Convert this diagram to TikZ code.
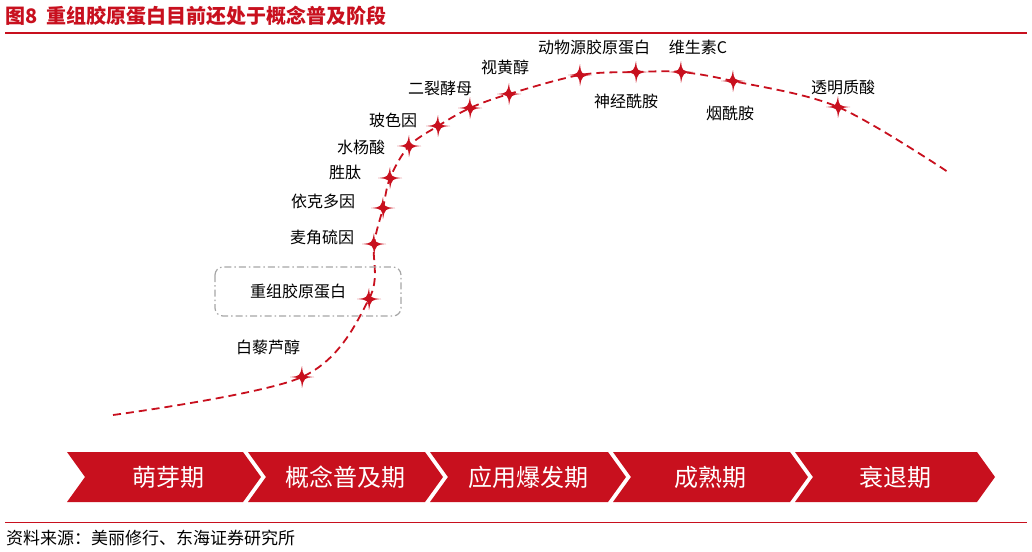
\documentclass[tikz,border=0pt]{standalone}
\usepackage{fontspec}
\newfontfamily\cjk{Noto Sans CJK SC}
\begin{document}
\begin{tikzpicture}[x=1pt,y=-1pt,font=\cjk,
 lbl/.style={font=\cjk\fontsize{16}{18}\selectfont,inner sep=0pt},
 chevtxt/.style={font=\cjk\fontsize{24}{28}\selectfont,text=white}]
\useasboundingbox (0,0) rectangle (1032,551);
\definecolor{dr}{HTML}{C8101E}
\node[anchor=west,inner sep=0pt,text=dr,font=\cjk\bfseries\fontsize{20}{22}\selectfont] (title) at (5,16) {图8\ \ 重组胶原蛋白目前还处于概念普及阶段};
\draw[dr,line width=1.2pt] (5,33) -- (1027,33);
\draw[dr,line width=1pt] (5,522) -- (1027,522);
\node[anchor=west,inner sep=0pt,font=\cjk\fontsize{17}{19}\selectfont] (src) at (6,538) {资料来源：美丽修行、东海证券研究所};
\def\chv#1#2#3#4{\fill[dr] (#1,452) -- (#2,452) -- (#2+18,477) -- (#2,502) -- (#1,502) -- (#1+18,477) -- cycle;
 \node[chevtxt] (#4) at ({(#1+#2)/2+9},477) {#3};}
\fill[dr] (67,452) -- (243,452) -- (261,477) -- (243,502) -- (67,502) -- (85,477) -- cycle;
\node[chevtxt] (c1) at (168,477) {萌芽期};
\chv{248}{425}{概念普及期}{c2}
\chv{430}{608}{应用爆发期}{c3}
\chv{613}{790}{成熟期}{c4}
\chv{795}{977}{衰退期}{c5}
\foreach \n/\x/\y in {s1/302/377,s2/369/299,s3/374/244,s4/383/208,s5/390/178,s6/409/146,s7/438/126,s8/470/108,s9/509/94,s10/580/75,s11/636/72,s12/681/72,s13/733/81,s14/838/107}
 \coordinate (\n) at (\x,\y);
\coordinate (st) at (113,415);
\coordinate (en) at (948,172);
\draw[dr,line width=1.8pt,dash pattern=on 8pt off 5pt] plot[smooth,tension=0.55] coordinates {(st) (s1) (s2) (s3) (s4) (s5) (s6) (s7) (s8) (s9) (s10) (s11) (s12) (s13) (s14) (en)};
\foreach \n in {s1,s2,s3,s4,s5,s6,s7,s8,s9,s10,s11,s12,s13,s14}
 \fill[dr] (\n) ++(-12,0) .. controls ++(10,-1) .. ++(12,-11) .. controls ++(1,10) .. ++(12,11) .. controls ++(-10,1) .. ++(-12,11) .. controls ++(-1,-10) .. cycle;
\draw[gray!70,line width=1.2pt,dash pattern=on 7pt off 3pt on 1.5pt off 3pt,rounded corners=8pt] (215,267) rectangle (401,316);
\node[lbl] (l1) at (268,347) {白藜芦醇};
\node[lbl] (l2) at (298,291) {重组胶原蛋白};
\node[lbl] (l3) at (322,237) {麦角硫因};
\node[lbl] (l4) at (323,201) {依克多因};
\node[lbl] (l5) at (345,172) {胜肽};
\node[lbl] (l6) at (361,147) {水杨酸};
\node[lbl] (l7) at (393,120) {玻色因};
\node[lbl] (l8) at (440,88) {二裂酵母};
\node[lbl] (l9) at (505,67) {视黄醇};
\node[lbl] (l10) at (594,47) {动物源胶原蛋白};
\node[lbl] (l11) at (626,101) {神经酰胺};
\node[lbl] (l12) at (698,47) {维生素C};
\node[lbl] (l13) at (730,113) {烟酰胺};
\node[lbl] (l14) at (843,87) {透明质酸};
\end{tikzpicture}
\end{document}
